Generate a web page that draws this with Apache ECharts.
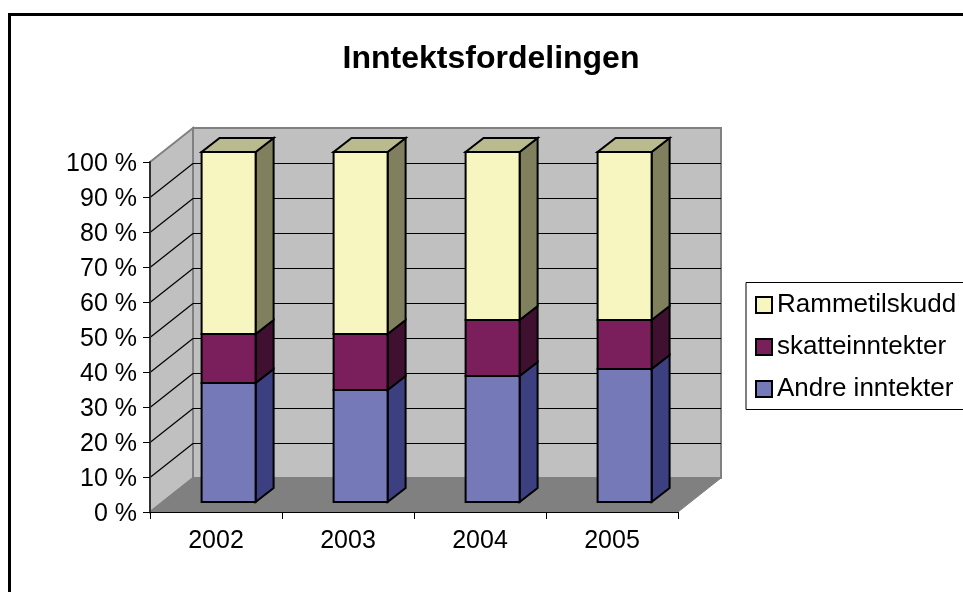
<!DOCTYPE html>
<html>
<head>
<meta charset="utf-8">
<title>Inntektsfordelingen</title>
<script src="https://cdn.jsdelivr.net/npm/echarts@6/dist/echarts.min.js"></script>
<style>
  html, body { margin: 0; padding: 0; background: #fff; }
  #chart { width: 963px; height: 592px; }
</style>
</head>
<body>
<div id="chart"></div>
<script>
const years = ['2002', '2003', '2004', '2005']
const andre = [34, 32, 36, 38]
const skatt = [14, 16, 16, 14]
const ramme = [52, 52, 48, 48]
const gridValues = [10, 20, 30, 40, 50, 60, 70, 80, 90]

const font = '"Liberation Sans", Arial, sans-serif'
// 3d look: offset of the back wall, of the bar front and of the bar depth (px)
const wallDx = 43, wallDy = -34
const barDx = 12.6, barDy = -10
const depthDx = 18, depthDy = -14
const barHalf = 27

let chart = echarts.init(document.getElementById('chart'), null, { renderer: 'canvas' })

function poly(points, fill, stroke, lineWidth) {
  return {
    type: 'polygon',
    shape: { points: points },
    style: { fill: fill, stroke: stroke, lineWidth: lineWidth, lineJoin: 'miter' }
  }
}

function renderWalls(params, api) {
  let c = params.coordSys
  let x0 = c.x, x1 = c.x + c.width
  let top = api.coord([0, 100])[1], bottom = api.coord([0, 0])[1]
  let edge = '#808080'
  return {
    type: 'group',
    children: [
      poly([[x0, top], [x0 + wallDx, top + wallDy], [x0 + wallDx, bottom + wallDy], [x0, bottom]], '#c0c0c0', edge, 2),
      poly([[x0 + wallDx, top + wallDy], [x1 + wallDx, top + wallDy], [x1 + wallDx, bottom + wallDy], [x0 + wallDx, bottom + wallDy]], '#c0c0c0', edge, 2),
      poly([[x0, bottom], [x1, bottom], [x1 + wallDx, bottom + wallDy], [x0 + wallDx, bottom + wallDy]], '#808080', edge, 1)
    ]
  }
}

function renderGrid(params, api) {
  let c = params.coordSys
  let x0 = c.x, x1 = c.x + c.width
  let y = Math.round(api.coord([0, api.value(0)])[1]) + 0.5
  let line = { stroke: '#000', lineWidth: 1.2 }
  return {
    type: 'group',
    children: [
      { type: 'line', shape: { x1: x0, y1: y, x2: x0 + wallDx, y2: y + wallDy }, style: line },
      { type: 'line', shape: { x1: x0 + wallDx, y1: y + wallDy, x2: x1 + wallDx, y2: y + wallDy }, style: line }
    ]
  }
}

function makeBarRenderer(front, side, topFace, line) {
  return function(params, api) {
    let base = api.coord([api.value(0), api.value(1)])
    let head = api.coord([api.value(0), api.value(2)])
    let l = base[0] + barDx - barHalf, r = base[0] + barDx + barHalf
    let yb = base[1] + barDy, yt = head[1] + barDy
    let children = [
      poly([[r, yb], [r + depthDx, yb + depthDy], [r + depthDx, yt + depthDy], [r, yt]], side, line, 2),
      poly([[l, yb], [r, yb], [r, yt], [l, yt]], front, line, 2)
    ]
    if (api.value(2) >= 100) {
      children.push(poly([[l, yt], [r, yt], [r + depthDx, yt + depthDy], [l + depthDx, yt + depthDy]], topFace, line, 2))
    }
    return { type: 'group', children: children }
  }
}

// start and end of each segment, stacked
function stackData(values, below) {
  return values.map((v, i) => {
    let start = below.reduce((sum, arr) => sum + arr[i], 0)
    return [i, start, start + v]
  })
}

function barSeries(name, values, below, front, side, topFace) {
  return {
    name: name,
    type: 'custom',
    clip: false,
    z: 3,
    itemStyle: { color: front },
    renderItem: makeBarRenderer(front, side, topFace, '#000'),
    encode: { x: 0, y: [1, 2] },
    data: stackData(values, below)
  }
}

let option = {
  animation: false,
  backgroundColor: '#fff',
  title: {
    text: 'Inntektsfordelingen',
    left: 486,
    top: 38,
    textAlign: 'center',
    textStyle: { fontFamily: font, fontSize: 32, fontWeight: 'bold', color: '#000' }
  },
  legend: {
    data: ['Rammetilskudd', 'skatteinntekter', 'Andre inntekter'],
    orient: 'vertical',
    left: 755,
    top: 292,
    padding: 0,
    icon: 'rect',
    itemWidth: 16,
    itemHeight: 16,
    itemGap: 16,
    itemStyle: { borderColor: '#000', borderWidth: 2 },
    textStyle: { fontFamily: font, fontSize: 26, color: '#000', padding: [0, 0, 4, 0] },
    selectedMode: false
  },
  grid: { left: 150, top: 162, width: 528, height: 350 },
  xAxis: {
    type: 'category',
    data: years,
    z: 5,
    axisLine: { lineStyle: { color: '#000', width: 1 } },
    axisTick: { show: true, alignWithLabel: false, length: 7, lineStyle: { color: '#000' } },
    axisLabel: { fontFamily: font, fontSize: 25, color: '#000', margin: 17 },
    splitLine: { show: false }
  },
  yAxis: {
    type: 'value',
    min: 0,
    max: 100,
    interval: 10,
    z: 5,
    axisLine: { show: true, lineStyle: { color: '#303030', width: 2 } },
    axisTick: { show: true, length: 7, lineStyle: { color: '#000' } },
    axisLabel: {
      margin: 13,
      formatter: '{v|{value} %}',
      rich: { v: { fontFamily: font, fontSize: 25, color: '#000', padding: [5, 0, 0, 0] } }
    },
    splitLine: { show: false }
  },
  graphic: [
    { type: 'rect', z: 10, shape: { x: 9.5, y: 14.5, width: 1000, height: 700 }, style: { fill: 'none', stroke: '#000', lineWidth: 3 } },
    { type: 'rect', z: 10, shape: { x: 746, y: 282.5, width: 300, height: 127 }, style: { fill: 'none', stroke: '#000', lineWidth: 1 } }
  ],
  series: [
    { name: 'wall', type: 'custom', clip: false, z: 1, renderItem: renderWalls, data: [[0]] },
    { name: 'gridlines', type: 'custom', clip: false, z: 2, renderItem: renderGrid, encode: { y: 0 }, data: gridValues.map(v => [v]) },
    barSeries('Andre inntekter', andre, [], '#7579b8', '#3c4080', '#5a5d90'),
    barSeries('skatteinntekter', skatt, [andre], '#7a1f5b', '#3f1030', '#5a1744'),
    barSeries('Rammetilskudd', ramme, [andre, skatt], '#f8f6c0', '#80805f', '#baba8f')
  ]
}
chart.setOption(option)
</script>
</body>
</html>
